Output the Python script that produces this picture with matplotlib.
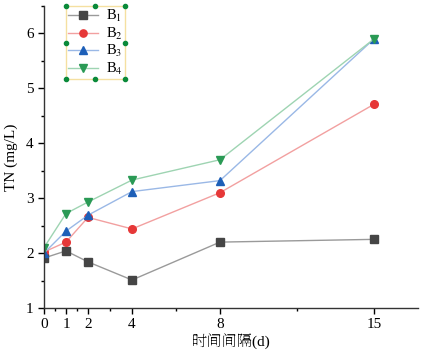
import matplotlib
matplotlib.use("Agg")
import matplotlib.pyplot as plt
from matplotlib.ticker import FixedLocator, MultipleLocator

plt.rcParams['font.family'] = ['Liberation Serif', 'Noto Serif SC', 'Noto Sans CJK SC']
plt.rcParams['mathtext.fontset'] = 'stix'

days = [0, 1, 2, 4, 8, 15]
b1 = [1.91, 2.04, 1.84, 1.51, 2.20, 2.25]
b2 = [2.02, 2.20, 2.65, 2.44, 3.10, 4.71]
b3 = [2.00, 2.40, 2.69, 3.12, 3.32, 5.90]
b4 = [2.10, 2.72, 2.93, 3.33, 3.70, 5.90]
labels = ['B$_1$', 'B$_2$', 'B$_3$', 'B$_4$']
xticks = [0, 1, 2, 4, 8, 15]
xminor = [0.5, 1.5, 3, 6, 11.5]

series = [b1, b2, b3, b4]
markers = ['s', 'o', '^', 'v']
mcolors = ['#454545', '#e63838', '#1d5fb8', '#2a9a55']
lcolors = ['#9a9a9a', '#f2a0a0', '#9ab8e6', '#9ed4b2']

fig = plt.figure(figsize=(4.25, 3.52), dpi=100)
ax = fig.add_axes([0.1035, 0.125, 0.88, 0.858])

for s, m, mc, lc, lab in zip(series, markers, mcolors, lcolors, labels):
    ax.plot(days, s, color=lc, lw=1.0, marker=m, markersize=5.5,
            markerfacecolor=mc, markeredgecolor=mc, label=lab)

ax.set_xlim(0, 17)
ax.set_ylim(1, 6.5)
ax.xaxis.set_major_locator(FixedLocator(xticks))
ax.xaxis.set_minor_locator(FixedLocator(xminor))
ax.yaxis.set_major_locator(MultipleLocator(1))
ax.yaxis.set_minor_locator(MultipleLocator(0.5))
ax.tick_params(which='major', direction='out', length=4, width=1, labelsize=11)
ax.tick_params(which='minor', direction='out', length=2.5, width=1)
for sp in ['top', 'right']:
    ax.spines[sp].set_visible(False)
for sp in ['left', 'bottom']:
    ax.spines[sp].set_linewidth(1.0)
    ax.spines[sp].set_color('#333333')

ax.set_ylabel('TN (mg/L)', fontsize=11, labelpad=6)
ax.set_xlabel('时间间隔(d)', fontsize=11, labelpad=2)

leg = ax.legend(loc='upper left', bbox_to_anchor=(0.058, 1.0), fontsize=10.5,
                frameon=True, fancybox=False, handlelength=2.1,
                borderpad=0.15, labelspacing=0.1, handletextpad=0.5,
                borderaxespad=0.0, markerscale=0.95)
leg.get_frame().set_edgecolor('#f3d98a')
leg.get_frame().set_linewidth(1.0)

fig.canvas.draw()
bb = leg.get_window_extent().transformed(fig.transFigure.inverted())
xs = [bb.x0, (bb.x0 + bb.x1) / 2, bb.x1]
ys = [bb.y0, (bb.y0 + bb.y1) / 2, bb.y1]
hx, hy = [], []
for xi in xs:
    for yi in ys:
        if xi == xs[1] and yi == ys[1]:
            continue
        hx.append(xi)
        hy.append(yi)
fig.add_artist(plt.Line2D(hx, hy, transform=fig.transFigure, ls='none',
                          marker='o', markersize=3, color='#0a8a3a', zorder=10))

fig.savefig('out.png', dpi=100)
